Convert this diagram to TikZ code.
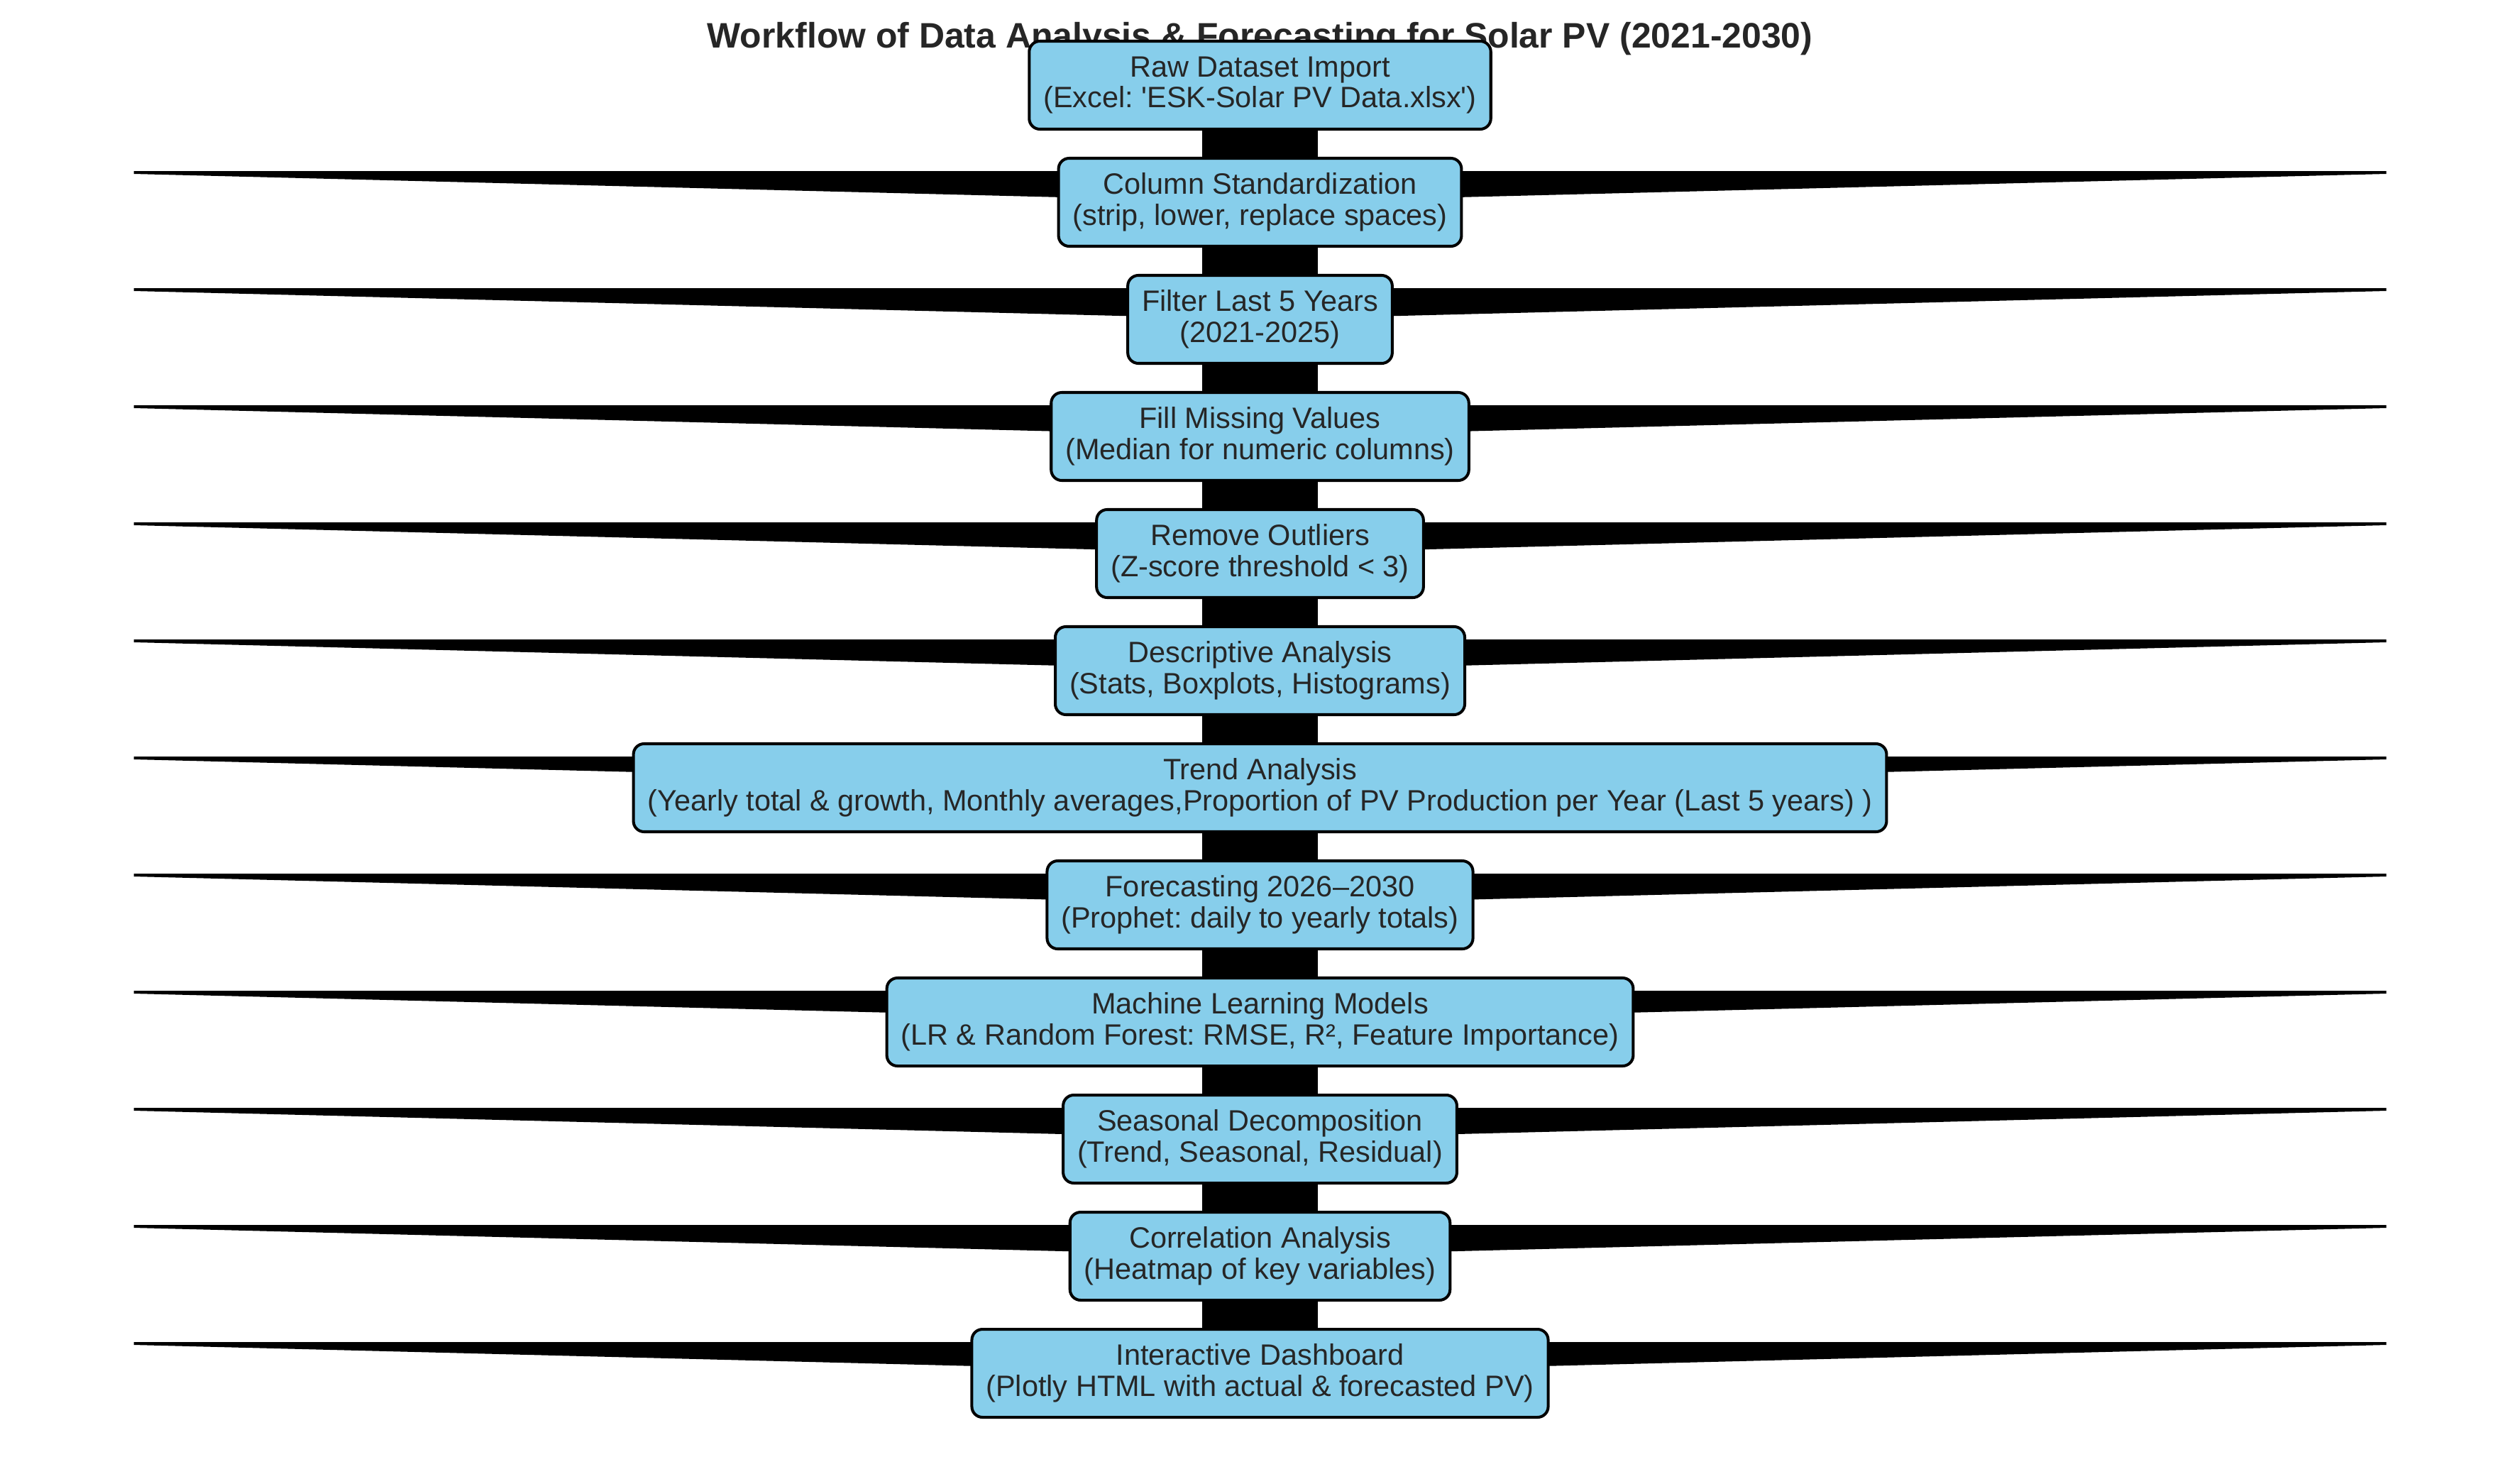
\documentclass[tikz,border=0pt]{standalone}
\usepackage{fontspec}
\setmainfont{Liberation Sans}
\usepackage{tikz}
\usetikzlibrary{backgrounds}
\definecolor{boxblue}{HTML}{87CEEB}
\definecolor{txtgray}{HTML}{262626}
\frenchspacing

\begin{document}
\begin{tikzpicture}[node distance = 1.65cm, auto,
		stage/.style = {draw=black, line width=1.15pt, fill=boxblue, text=txtgray, rounded corners=0.15cm,
			align=center, inner xsep=0.2cm, minimum height=1.24cm, font=\fontsize{11.8}{12.5}\selectfont},
		flow/.style = {line width=1.63cm, black},
		wedge/.style = {fill=black}]
		\useasboundingbox (0,0) rectangle (35.51,-20.52);
		\node [text=txtgray, anchor=base, font=\fontsize{14.2}{16}\selectfont\bfseries] (title) at (17.755,-0.67)
		{Workflow of Data Analysis \& Forecasting for Solar PV (2021-2030)};
		\node [stage] (raw) at (17.755,-1.20) {Raw Dataset Import\\(Excel: \textquotesingle ESK-Solar PV Data.xlsx\textquotesingle)};
		\node [stage, below of=raw] (std) {Column Standardization\\(strip, lower, replace spaces)};
		\node [stage, below of=std] (filt) {Filter Last 5 Years\\(2021-2025)};
		\node [stage, below of=filt] (fill) {Fill Missing Values\\(Median for numeric columns)};
		\node [stage, below of=fill] (outl) {Remove Outliers\\(Z-score threshold < 3)};
		\node [stage, below of=outl] (desc) {Descriptive Analysis\\(Stats, Boxplots, Histograms)};
		\node [stage, below of=desc] (trend) {Trend Analysis\\(Yearly total \& growth, Monthly averages,Proportion of PV Production per Year (Last 5 years) )};
		\node [stage, below of=trend] (fcst) {Forecasting 2026–2030\\(Prophet: daily to yearly totals)};
		\node [stage, below of=fcst] (ml) {Machine Learning Models\\(LR \& Random Forest: RMSE, R², Feature Importance)};
		\node [stage, below of=ml] (seas) {Seasonal Decomposition\\(Trend, Seasonal, Residual)};
		\node [stage, below of=seas] (corr) {Correlation Analysis\\(Heatmap of key variables)};
		\node [stage, below of=corr] (dash) {Interactive Dashboard\\(Plotly HTML with actual \& forecasted PV)};
		
		\begin{scope}[on background layer]
		\foreach \s in {std, filt, fill, outl, desc, trend, fcst, ml, seas, corr, dash}
		\fill[wedge, shift={(\s.center)}]
		(-15.87,0.44) -- (15.87,0.44) -- (15.87,0.40) -- (0,0) -- (-15.87,0.40) -- cycle;
		\end{scope}
		
		\draw[flow]
		(raw) -- (std);
		\draw[flow]
		(std) -- (filt);
		\draw[flow]
		(filt) -- (fill);
		\draw[flow]
		(fill) -- (outl);
		\draw[flow]
		(outl) -- (desc);
		\draw[flow]
		(desc) -- (trend);
		\draw[flow]
		(trend) -- (fcst);
		\draw[flow]
		(fcst) -- (ml);
		\draw[flow]
		(ml) -- (seas);
		\draw[flow]
		(seas) -- (corr);
		\draw[flow]
		(corr) -- (dash);
		
		\end{tikzpicture}
\end{document}
